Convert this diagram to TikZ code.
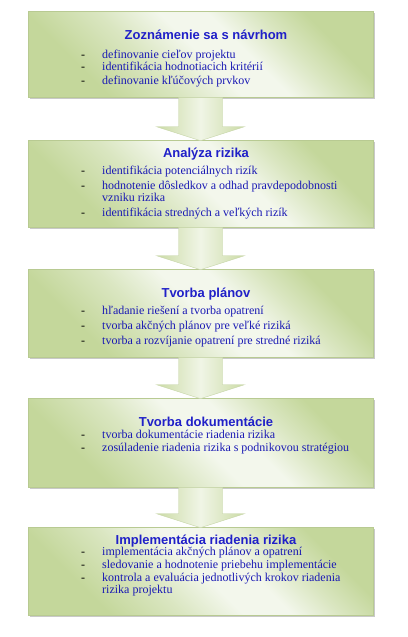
\documentclass[tikz,border=0pt]{standalone}
\usepackage{fontspec}
\setmainfont{Liberation Serif}
\newfontfamily\headfont{Liberation Sans}
\usetikzlibrary{calc,shadows}
\definecolor{boxgreen}{RGB}{196,215,155}
\definecolor{boxmid}{RGB}{218,230,193}
\definecolor{boxlight}{RGB}{243,247,236}
\definecolor{boxedge}{RGB}{184,202,146}
\definecolor{arrgreen}{RGB}{203,219,165}
\definecolor{arrlight}{RGB}{240,245,230}
\definecolor{headblue}{RGB}{32,32,200}
\definecolor{itemblue}{RGB}{25,25,180}
\pgfdeclareverticalshading{boxshade}{100bp}{color(0bp)=(boxgreen); color(28bp)=(boxgreen); color(40bp)=(boxmid); color(50bp)=(boxlight); color(58bp)=(boxlight); color(66bp)=(boxmid); color(74bp)=(boxgreen); color(100bp)=(boxgreen)}
\tikzset{
  stepbox/.style={draw=boxedge, line width=0.6pt, shade, shading=boxshade,
    shading angle=-45, minimum width=345pt, inner sep=0pt,
    drop shadow={shadow xshift=2pt, shadow yshift=-2pt, fill=black!35, opacity=0.6}},
  arrowbody/.style={draw=boxedge!80, line width=0.4pt, left color=arrgreen,
    right color=arrgreen, middle color=arrlight},
  headtxt/.style={anchor=base, font=\headfont\bfseries\fontsize{13}{15}\selectfont, text=headblue, inner sep=0pt},
  itemtxt/.style={anchor=base west, font=\fontsize{12}{14}\selectfont, text=itemblue, inner sep=0pt},
  dashtxt/.style={anchor=base west, font=\fontsize{12}{14}\selectfont, text=black, inner sep=0pt},
}
\newcommand\blockarrow[2]{%
  \path[arrowbody] ($(#1.south)+(-22,0)$) -- ($(#1.south)+(22,0)$)
    -- ($(#2.north)+(22,-13)$) -- ($(#2.north)+(44,-13)$)
    -- ($(#2.north)+(0,1)$) -- ($(#2.north)+(-44,-13)$)
    -- ($(#2.north)+(-22,-13)$) -- cycle;}
\begin{document}
\begin{tikzpicture}[x=1pt,y=-1pt]
\useasboundingbox (0,0) rectangle (407,637);
\fill[white] (0,0) rectangle (407,637);
% boxes
\node[stepbox, minimum height=86pt] (b1) at (200.5,54) {};
\node[stepbox, minimum height=87pt] (b2) at (200.5,183.5) {};
\node[stepbox, minimum height=88pt] (b3) at (200.5,313) {};
\node[stepbox, minimum height=89pt] (b4) at (200.5,442.5) {};
\node[stepbox, minimum height=88pt] (b5) at (200.5,571) {};
% arrows
\blockarrow{b1}{b2}
\blockarrow{b2}{b3}
\blockarrow{b3}{b4}
\blockarrow{b4}{b5}
% box 1
\node[headtxt] (h1) at (206,39.5) {Zoznámenie sa s návrhom};
\node[dashtxt] (d11) at (81,58) {-};
\node[itemtxt] (t11) at (102,58) {definovanie cieľov projektu};
\node[dashtxt] (d12) at (81,70.7) {-};
\node[itemtxt] (t12) at (102,70.7) {identifikácia hodnotiacich kritérií};
\node[dashtxt] (d13) at (81,84.7) {-};
\node[itemtxt] (t13) at (102,84.7) {definovanie kľúčových prvkov};
% box 2
\node[headtxt] (h2) at (206,157.5) {Analýza rizika};
\node[dashtxt] (d21) at (81,174.7) {-};
\node[itemtxt] (t21) at (102,174.7) {identifikácia potenciálnych rizík};
\node[dashtxt] (d22) at (81,189.7) {-};
\node[itemtxt] (t22) at (102,189.7) {hodnotenie dôsledkov a odhad pravdepodobnosti};
\node[itemtxt] (t22b) at (102,201.3) {vzniku rizika};
\node[dashtxt] (d23) at (81,216.3) {-};
\node[itemtxt] (t23) at (102,216.3) {identifikácia stredných a veľkých rizík};
% box 3
\node[headtxt] (h3) at (206,297) {Tvorba plánov};
\node[dashtxt] (d31) at (81,314.7) {-};
\node[itemtxt] (t31) at (102,314.7) {hľadanie riešení a tvorba opatrení};
\node[dashtxt] (d32) at (81,329.7) {-};
\node[itemtxt] (t32) at (102,329.7) {tvorba akčných plánov pre veľké riziká};
\node[dashtxt] (d33) at (81,344.7) {-};
\node[itemtxt] (t33) at (102,344.7) {tvorba a rozvíjanie opatrení pre stredné riziká};
% box 4
\node[headtxt] (h4) at (206,426) {Tvorba dokumentácie};
\node[dashtxt] (d41) at (81,438) {-};
\node[itemtxt] (t41) at (102,438) {tvorba dokumentácie riadenia rizika};
\node[dashtxt] (d42) at (81,451.3) {-};
\node[itemtxt] (t42) at (102,451.3) {zosúladenie riadenia rizika s podnikovou stratégiou};
% box 5
\node[headtxt] (h5) at (206,544.5) {Implementácia riadenia rizika};
\node[dashtxt] (d51) at (81,555.3) {-};
\node[itemtxt] (t51) at (102,555.3) {implementácia akčných plánov a opatrení};
\node[dashtxt] (d52) at (81,568) {-};
\node[itemtxt] (t52) at (102,568) {sledovanie a hodnotenie priebehu implementácie};
\node[dashtxt] (d53) at (81,581.3) {-};
\node[itemtxt] (t53) at (102,581.3) {kontrola a evaluácia jednotlivých krokov riadenia};
\node[itemtxt] (t53b) at (102,593) {rizika projektu};
\end{tikzpicture}
\end{document}
